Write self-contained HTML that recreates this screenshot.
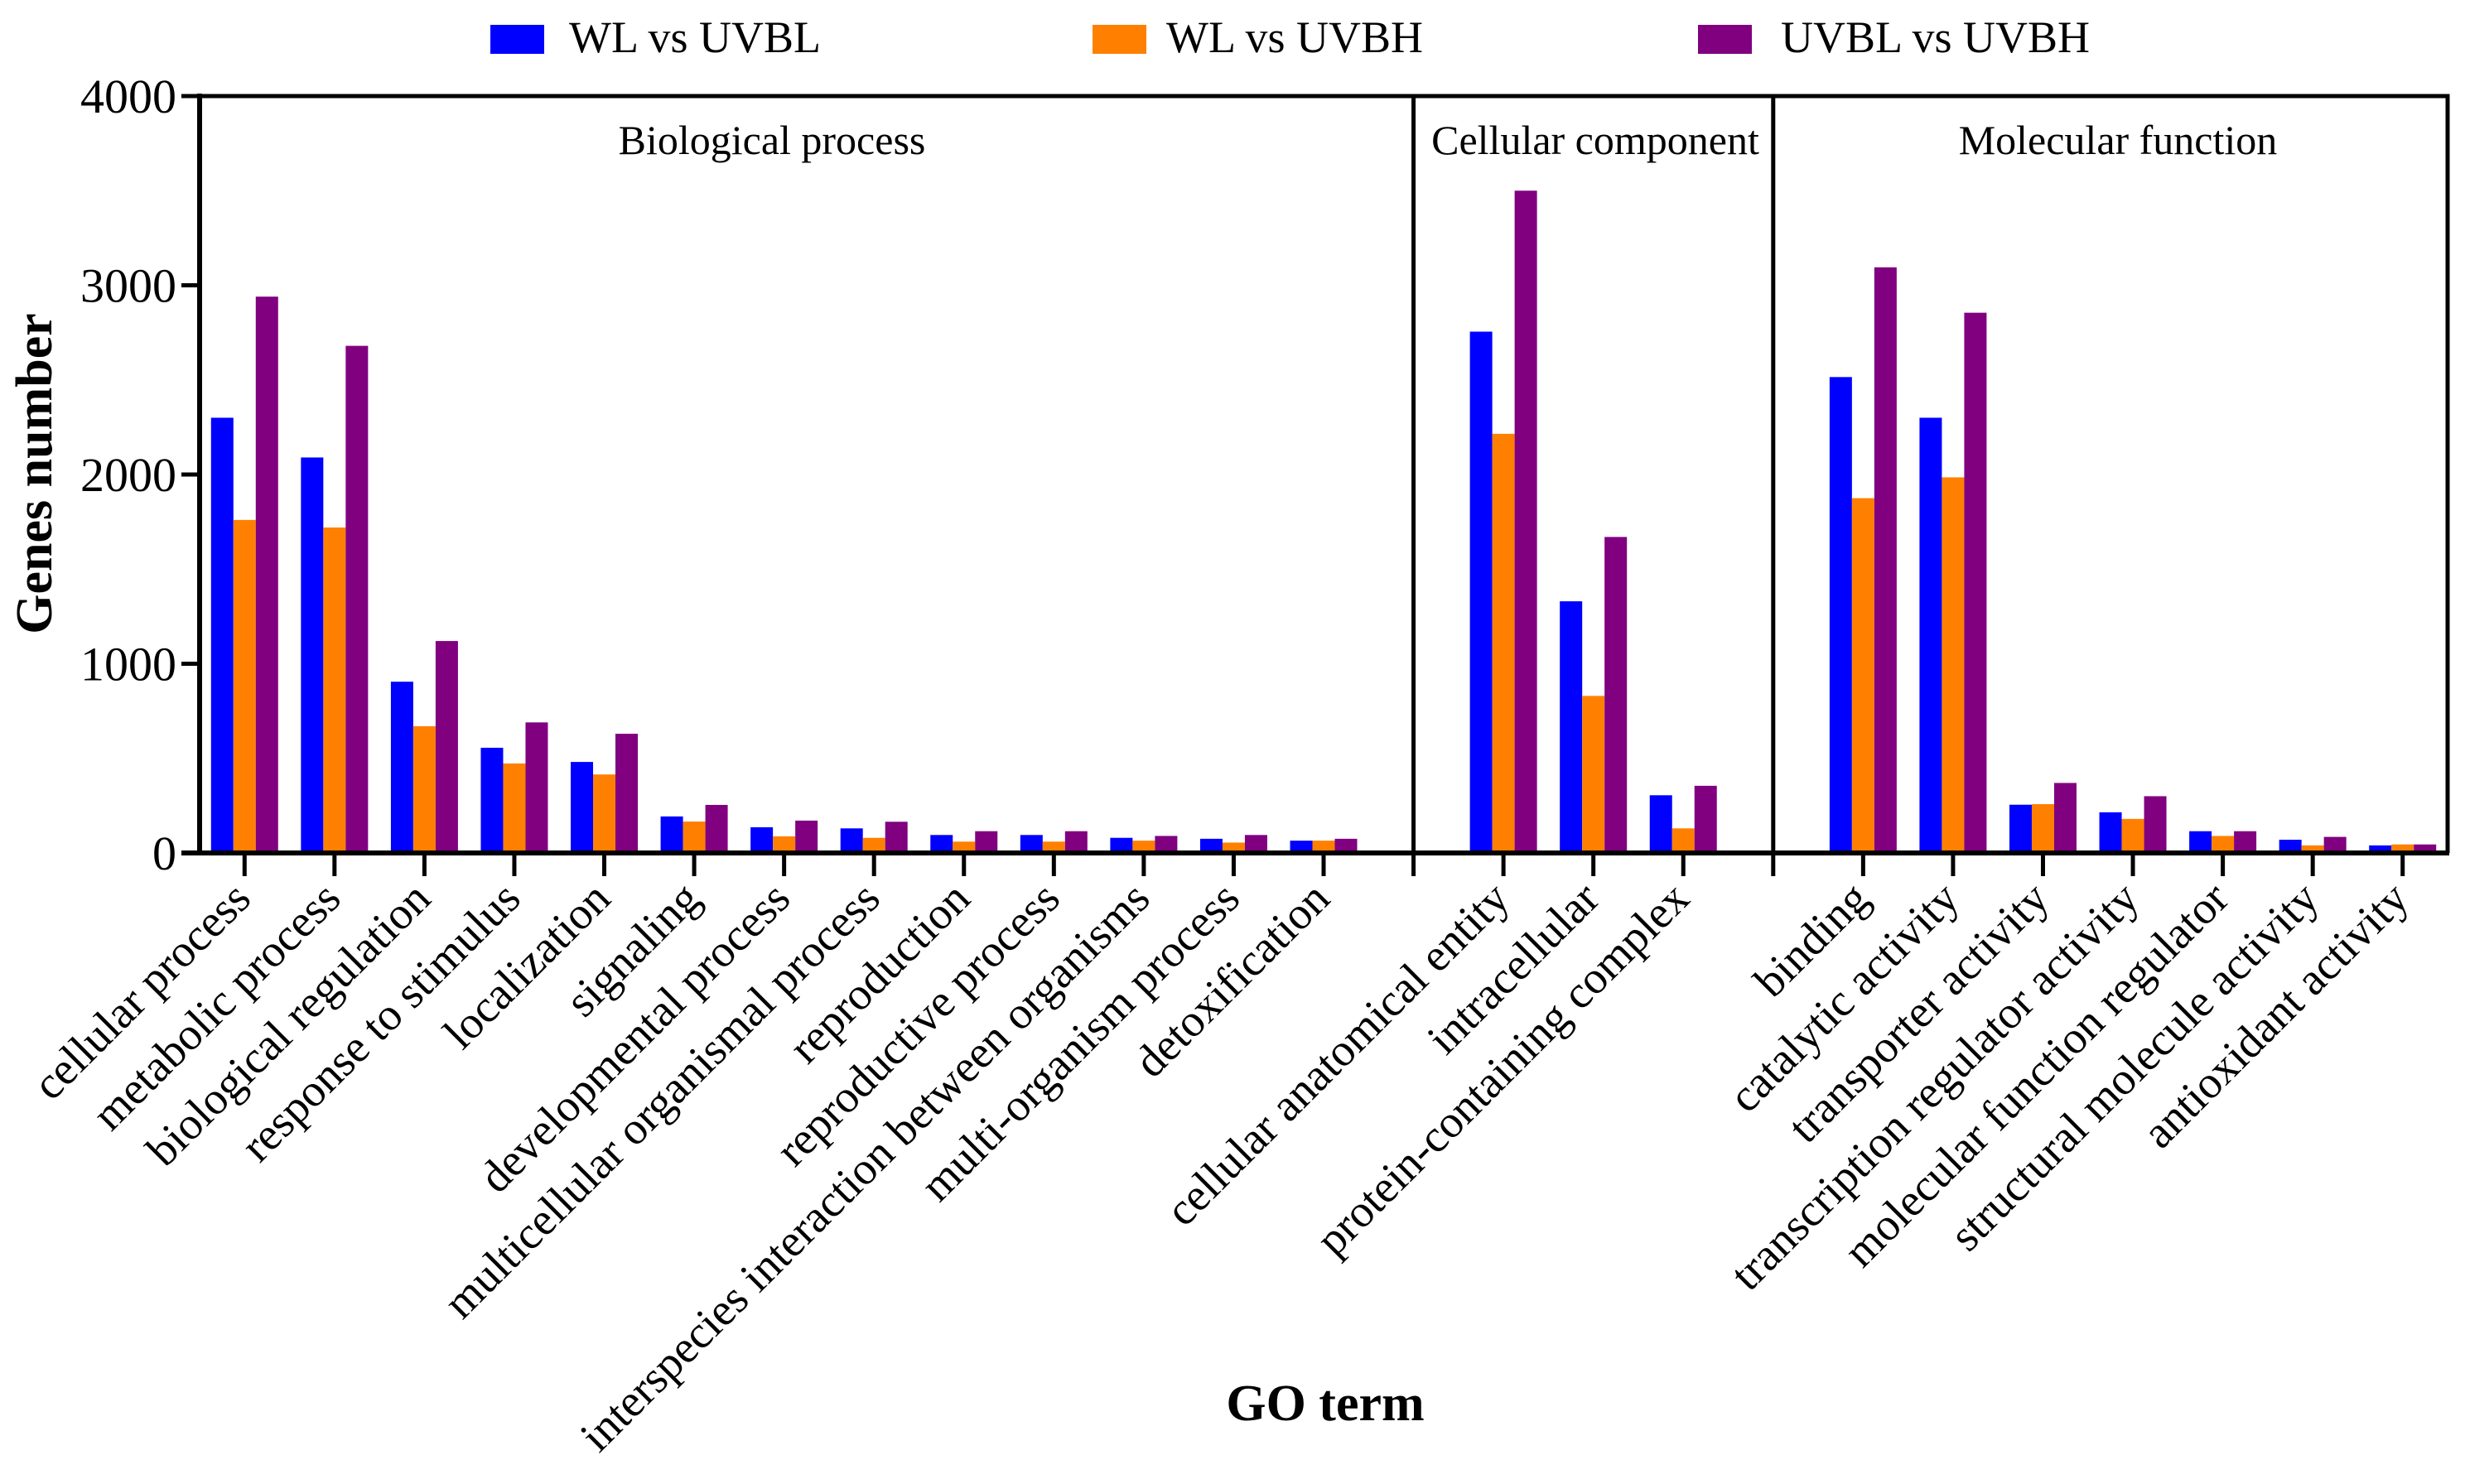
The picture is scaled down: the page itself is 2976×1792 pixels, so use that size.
<!DOCTYPE html>
<html><head><meta charset="utf-8"><style>
html,body{margin:0;padding:0;background:#fff;}
svg{display:block;font-family:"Liberation Serif","Times New Roman",serif;}
</style></head><body>
<svg id="chart" width="2976" height="1792" viewBox="0 0 2976 1792" xmlns="http://www.w3.org/2000/svg">
<g id="legend">
  <g><rect x="592" y="30" width="65" height="35" fill="#0000ff"/><text x="687" y="63" font-size="54">WL vs UVBL</text></g>
  <g><rect x="1319" y="30" width="65" height="35" fill="#ff8000"/><text x="1408" y="63" font-size="54">WL vs UVBH</text></g>
  <g><rect x="2050" y="30" width="65" height="35" fill="#800080"/><text x="2150" y="63" font-size="54">UVBL vs UVBH</text></g>
</g>
<g id="bars"></g>
<g id="axes"></g>
<text transform="translate(62,572) rotate(-90)" text-anchor="middle" font-size="62" font-weight="bold">Genes number</text>
<text x="1600" y="1715" text-anchor="middle" font-size="62" font-weight="bold">GO term</text>
</svg>
<script>
const categories = ["cellular process","metabolic process","biological regulation","response to stimulus","localization","signaling","developmental process","multicellular organismal process","reproduction","reproductive process","interspecies interaction between organisms","multi-organism process","detoxification","cellular anatomical entity","intracellular","protein-containing complex","binding","catalytic activity","transporter activity","transcription regulator activity","molecular function regulator","structural molecule activity","antioxidant activity"];
const groupOf = ["BP","BP","BP","BP","BP","BP","BP","BP","BP","BP","BP","BP","BP","CC","CC","CC","MF","MF","MF","MF","MF","MF","MF"];
const groupNames = ["Biological process","Cellular component","Molecular function"];
const seriesNames = ["WL vs UVBL","WL vs UVBH","UVBL vs UVBH"];
const wlVsUvbl = [2300,2090,905,556,481,193,136,130,95,95,80,75,65,2755,1330,305,2515,2300,255,215,115,70,40];
const wlVsUvbh = [1760,1720,670,473,415,166,88,80,60,60,65,55,65,2215,830,130,1875,1985,258,180,90,40,45];
const uvblVsUvbh = [2940,2680,1120,690,630,254,171,165,115,115,90,95,75,3500,1670,355,3095,2855,370,300,115,85,45];
const yTicks = [0,1000,2000,3000,4000];

const NS="http://www.w3.org/2000/svg";
const X0=241, X1=2955, Y0=1030, Y1=116, YMAX=4000;
const slotW=(X1-X0)/25;
function slotIndex(i){ const g=groupOf[i]; return g==="BP"?i:(g==="CC"?i+1:i+2); }
function xPos(slot){ return X0+(slot+0.5)*slotW; }
function yPos(v){ return Y0-(v/YMAX)*(Y0-Y1); }
function mk(tag,attrs,parent){ const e=document.createElementNS(NS,tag); for(const k in attrs) e.setAttribute(k,attrs[k]); parent.appendChild(e); return e; }

const bars=document.getElementById('bars');
const axes=document.getElementById('axes');
const series=[wlVsUvbl,wlVsUvbh,uvblVsUvbh];
const colors=["#0000ff","#ff8000","#800080"];
const bw=27;
categories.forEach((c,i)=>{
  const cx=xPos(slotIndex(i));
  series.forEach((s,j)=>{
    const r=mk('rect',{x:cx-1.5*bw+j*bw,y:yPos(s[i]),width:bw,height:Y0-yPos(s[i]),fill:colors[j]},bars);
    
    
  });
  const t=mk('line',{x1:cx,y1:Y0,x2:cx,y2:Y0+28,stroke:'#000','stroke-width':5},axes);
  
  
  const lab=mk('text',{transform:`translate(${cx+10},${Y0+58}) rotate(-45)`,'text-anchor':'end','font-size':55},axes);
  lab.textContent=c;
  
  
});
const f=mk('path',{d:`M${X0},${Y1} L${X1},${Y1} L${X1},${Y0}`,fill:'none',stroke:'#000','stroke-width':5},axes);


const ya=mk('line',{x1:X0,y1:Y1-3,x2:X0,y2:Y0+3,stroke:'#000','stroke-width':6},axes);


const xa=mk('line',{x1:X0-22,y1:Y0,x2:X1+2,y2:Y0,stroke:'#000','stroke-width':6},axes);


[13,17].forEach(s=>{
  const x=X0+s*slotW+slotW/2;
  const d=mk('line',{x1:x,y1:Y1,x2:x,y2:Y0+28,stroke:'#000','stroke-width':5},axes);
  
  
});
yTicks.forEach(v=>{
  const y=yPos(v);
  const t=mk('line',{x1:X0-22,y1:y,x2:X0,y2:y,stroke:'#000','stroke-width':5},axes);
  
  
  const l=mk('text',{x:X0-28,y:y+20,'text-anchor':'end','font-size':58},axes);
  l.textContent=v;
  
  
});
const gx=[932,1926,2557];
groupNames.forEach((g,i)=>{
  const t=mk('text',{x:gx[i],y:186,'text-anchor':'middle','font-size':50},axes);
  t.textContent=g;
  
  
});
</script>
</body></html>
